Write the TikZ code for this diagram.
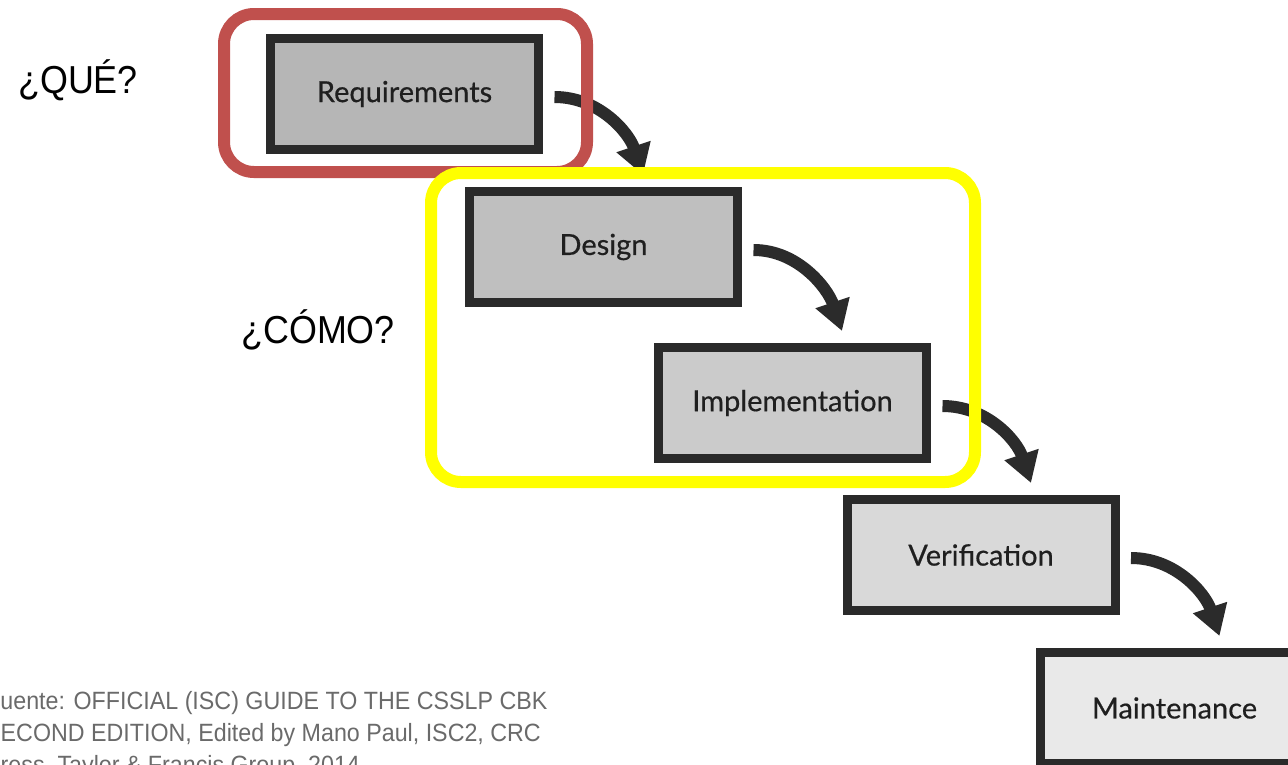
\documentclass[tikz,border=0pt]{standalone}
\usepackage{fontspec}
\usetikzlibrary{arrows.meta,calc}
\newfontfamily\askfont[FakeStretch=0.92]{Liberation Sans}
\newfontfamily\stagefont[FakeBold=0.5]{Lato}
\newfontfamily\notefont[FakeStretch=0.93]{Liberation Sans}
\definecolor{frameink}{HTML}{2A2A2A}
\definecolor{flowink}{HTML}{2B2B2B}
\definecolor{whatred}{HTML}{C0504D}
\definecolor{howyellow}{HTML}{FFFF00}
\definecolor{notegray}{HTML}{6A6A6A}
\definecolor{fillA}{HTML}{B6B6B6}
\definecolor{fillB}{HTML}{BFBFBF}
\definecolor{fillC}{HTML}{CBCBCB}
\definecolor{fillD}{HTML}{D9D9D9}
\definecolor{fillE}{HTML}{E9E9E9}
\begin{document}
\begin{tikzpicture}[x=1pt,y=-1pt,
  stagebox/.style={draw=frameink, line width=9pt, minimum width=268pt,
    minimum height=111pt, inner sep=0pt, text=black!88,
    font=\stagefont\fontsize{29}{34}\selectfont},
  flow/.style={draw=flowink, line width=12pt,
    -{Triangle[width=34pt,length=30pt]}},
  overlay box/.style={line width=12pt, rounded corners=30pt},
  ask/.style={anchor=base, inner sep=0pt, text=black,
    font=\askfont\fontsize{39}{44}\selectfont},
  note/.style={anchor=base west, inner sep=0pt, text=notegray,
    font=\notefont\fontsize{25}{32}\selectfont}]
\path[use as bounding box] (0,0) rectangle (1288,764);
\begin{scope}
\clip (0,0) rectangle (1288,764);

% waterfall stages
\node[stagebox, fill=fillA] (req)   at (404.5,94)  {Requirements};
\node[stagebox, fill=fillB] (des)   at (603.5,247) {Design};
\node[stagebox, fill=fillC] (impl)  at (792.5,403) {Implementation};
\node[stagebox, fill=fillD] (ver)   at (981,555)   {Verification};
\node[stagebox, fill=fillE] (maint) at (1174.5,708) {Maintenance};

% curved hand-offs between stages
\foreach \a/\b in {req/des, des/impl, impl/ver, ver/maint}{
  \draw[flow] ($(\a.east)+(11.5,3)$)
    .. controls +(45,0) and +(-14,-42) ..
    ($(\a.east |- \b.north)+(100,-12)$);
}

% highlight frames
\draw[overlay box, draw=whatred] (224,14) rectangle (587,172);
\draw[overlay box, draw=howyellow] (431,173) rectangle (975,482);

% questions
\node[ask] (que)  at (78,93)   {¿QUÉ?};
\node[ask] (como) at (318,343) {¿CÓMO?};

% source note
\node[note] (src1) at (-14,709) {Fuente: OFFICIAL (ISC) GUIDE TO THE CSSLP CBK};
\node[note] (src2) at (-15,741) {SECOND EDITION, Edited by Mano Paul, ISC2, CRC};
\node[note] (src3) at (-15,773) {Press, Taylor \& Francis Group, 2014};
\end{scope}
\end{tikzpicture}
\end{document}
